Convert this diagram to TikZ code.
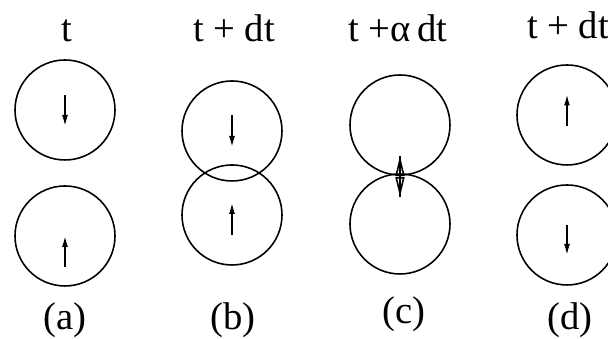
\documentclass[tikz,border=0pt]{standalone}
\usepackage{fontspec}
\setmainfont{Liberation Serif}
\usetikzlibrary{arrows.meta,calc}

\tikzset{
  ball/.style={draw, circle, minimum size=1cm, inner sep=0pt, line width=0.45pt},
  spin/.style={-{Latex[length=1.1mm,width=0.6mm]}, line width=0.45pt},
  swap/.style={{Triangle[open,length=2mm,width=0.9mm]}-{Triangle[open,length=2mm,width=0.9mm]}, line width=0.45pt},
  lab/.style={anchor=base, font=\fontsize{11}{13}\selectfont, inner sep=0pt}
}

\begin{document}
\begin{tikzpicture}
  \useasboundingbox (0,0) rectangle (6.08,3.39);
  \fill[white] (0,0) rectangle (6.08,3.39);

  % (a) instante t
  \node[lab] (ta) at (0.67,2.97) {t};
  \node[ball] (a1) at (0.65,2.29) {};
  \node[ball] (a2) at (0.65,1.03) {};
  \draw[spin] ($(a1)+(0,0.15)$) -- ++(0,-0.31);
  \draw[spin] ($(a2)+(0,-0.31)$) -- ++(0,0.31);
  \node[lab] (la) at (0.65,0.09) {(a)};

  % (b) t + dt, solapadas
  \node[lab] (tb) at (2.34,2.97) {t + dt};
  \node[ball] (b1) at (2.32,2.08) {};
  \node[ball] (b2) at (2.32,1.24) {};
  \draw[spin] ($(b1)+(0,0.16)$) -- ++(0,-0.32);
  \draw[spin] ($(b2)+(0,-0.20)$) -- ++(0,0.32);
  \node[lab] (lb) at (2.33,0.09) {(b)};

  % (c) t + alpha dt, contacto
  \node[lab] (tc) at (3.98,2.97) {t +α\,dt};
  \node[ball] (c1) at (4.00,2.14) {};
  \node[ball] (c2) at (4.00,1.15) {};
  \draw[swap] ($(c1)+(0,-0.31)$) coordinate (ct) -- ($(c2)+(0,0.27)$) coordinate (cb);
  \draw[line width=0.45pt] (ct) -- (cb);
  \node[lab] (lc) at (4.04,0.15) {(c)};

  % (d) t + dt, invertidas
  \node[lab] (td) at (5.68,3.00) {t + dt};
  \node[ball] (d1) at (5.67,2.24) {};
  \node[ball] (d2) at (5.67,1.04) {};
  \draw[spin] ($(d1)+(0,-0.115)$) -- ++(0,0.32);
  \draw[spin] ($(d2)+(0,0.10)$) -- ++(0,-0.30);
  \node[lab] (ld) at (5.70,0.09) {(d)};
\end{tikzpicture}
\end{document}
